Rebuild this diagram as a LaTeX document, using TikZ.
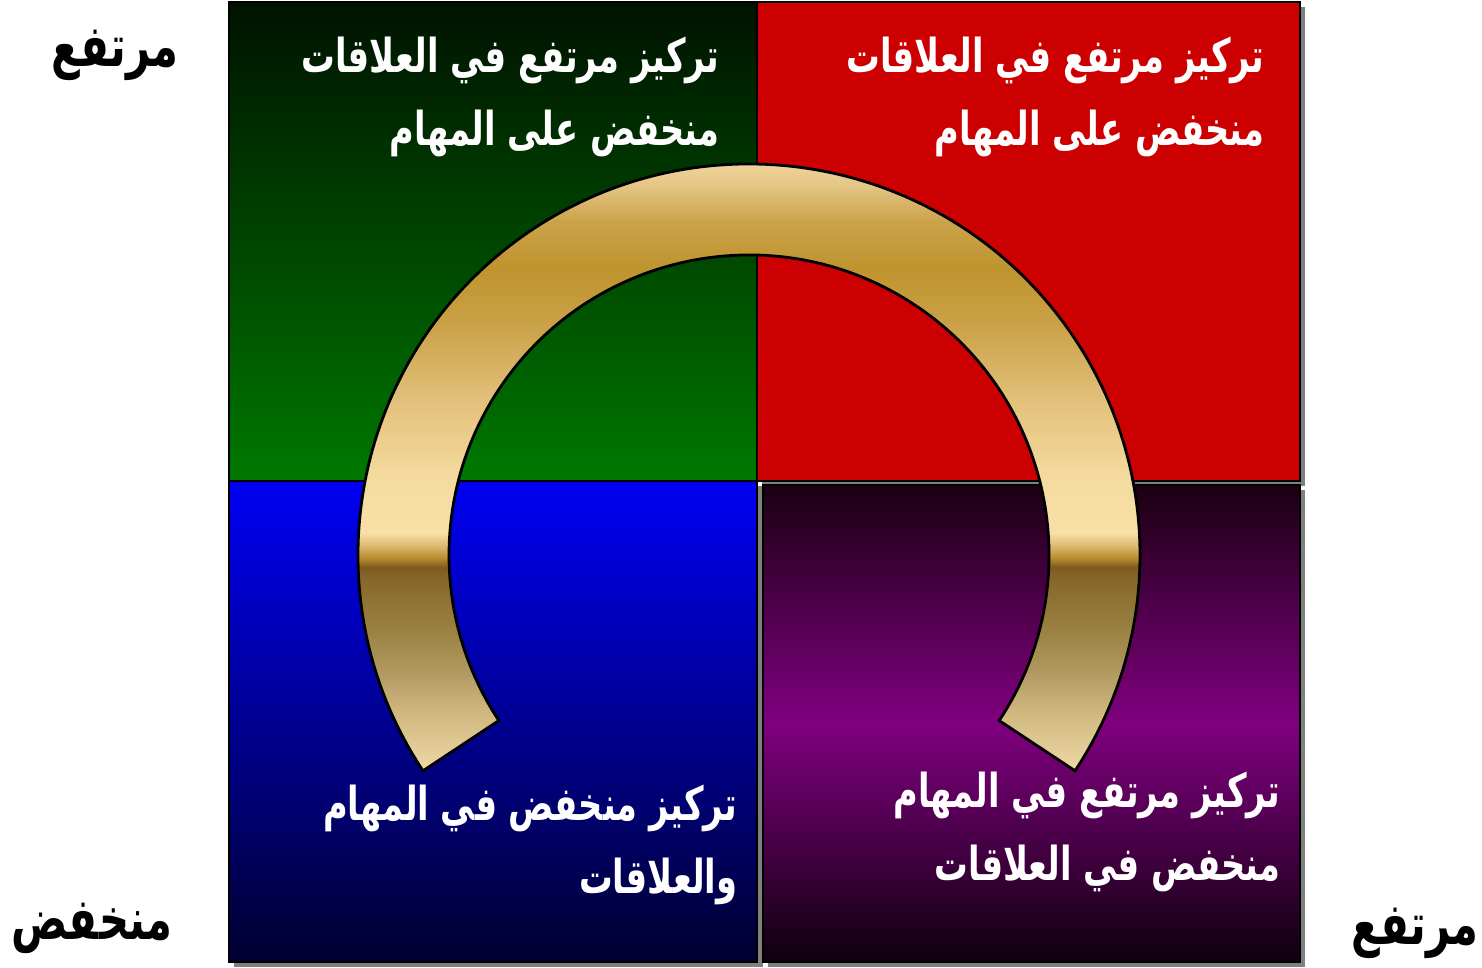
\documentclass[tikz,border=0pt]{standalone}
\usepackage{fontspec}
\usetikzlibrary{calc}
\newfontfamily\arabicfont[Script=Arabic,FakeStretch=0.72]{DejaVu Sans}
\TeXXeTstate=1
\definecolor{quadred}{HTML}{CC0000}
\definecolor{quadgreen}{HTML}{007800}
\definecolor{quadgreentop}{HTML}{001200}
\definecolor{quadblue}{HTML}{0000F4}
\definecolor{quadbluebot}{HTML}{000030}
\definecolor{quadpurple}{HTML}{800080}
\definecolor{quadpurpletop}{HTML}{1A0012}
\definecolor{quadpurplebot}{HTML}{0E000C}
\definecolor{shadowgray}{HTML}{808080}
\definecolor{goldA}{HTML}{F0D8A8}
\definecolor{goldB}{HTML}{D0B880}
\definecolor{goldC}{HTML}{B09860}
\definecolor{goldD}{HTML}{988040}
\definecolor{goldE}{HTML}{86662A}
\definecolor{goldF}{HTML}{7E5A1E}
\definecolor{goldG}{HTML}{B88C2E}
\definecolor{goldH}{HTML}{D8B468}
\definecolor{goldI}{HTML}{F8E0A8}
\definecolor{goldJ}{HTML}{F4DA9E}
\definecolor{goldK}{HTML}{E2C07A}
\definecolor{goldL}{HTML}{C9A045}
\definecolor{goldM}{HTML}{BF942E}
\definecolor{goldN}{HTML}{CBA24A}
\definecolor{goldO}{HTML}{E6C88A}
\pgfdeclareverticalshading{goldarc}{100bp}{color(0bp)=(goldA); color(25bp)=(goldA);
  color(29.35bp)=(goldB); color(32.6bp)=(goldC); color(35.9bp)=(goldD);
  color(39.6bp)=(goldE); color(40.4bp)=(goldF); color(41.1bp)=(goldG);
  color(41.9bp)=(goldH); color(43bp)=(goldI); color(47.4bp)=(goldJ);
  color(53.1bp)=(goldK); color(59bp)=(goldL); color(63bp)=(goldM);
  color(66.5bp)=(goldN); color(69.5bp)=(goldO); color(72.5bp)=(goldI); color(100bp)=(goldI)}
\begin{document}
\begin{tikzpicture}[
    quad/.style={draw=black,line width=0.8pt},
    quadshadow/.style={fill=shadowgray},
    celltext/.style={text=white,font=\arabicfont\bfseries\fontsize{13.3}{20.8}\selectfont,align=right,anchor=east,inner sep=0pt},
    axislabel/.style={text=black,font=\arabicfont\bfseries\fontsize{16.5}{18}\selectfont,inner sep=0pt}]
    \useasboundingbox (0,0) rectangle (14.82,9.67);
    \fill[quadshadow] (7.62,4.81) rectangle (13.05,9.60);
    \fill[quadshadow] (2.34,0) rectangle (7.63,4.81);
    \fill[quadshadow] (7.68,0) rectangle (13.05,4.77);
    \draw[quad,top color=quadgreentop,bottom color=quadgreen] (2.29,4.86) rectangle (7.57,9.65);
    \draw[quad,fill=quadred] (7.57,4.86) rectangle (13.00,9.65);
    \draw[quad,top color=quadblue,bottom color=quadbluebot] (2.29,0.05) rectangle (7.57,4.86);
    \draw[quad,top color=quadpurpletop,bottom color=quadpurplebot,middle color=quadpurple] (7.63,0.05) rectangle (13.00,4.82);
    \coordinate (C) at (7.49,4.12);
    \draw[line width=0.8pt,shading=goldarc] (C) ++ (213.5:3.91) arc[start angle=213.5,end angle=-33.5,radius=3.91]
      -- ($(C)+(-33.5:3.00)$) arc[start angle=-33.5,end angle=213.5,radius=3.00] -- cycle;
    \node[celltext] (tl) at (7.20,8.70) {\beginR تركيز مرتفع في العلاقات\endR\\\beginR منخفض على المهام\endR};
    \node[celltext] (tr) at (12.65,8.70) {\beginR تركيز مرتفع في العلاقات\endR\\\beginR منخفض على المهام\endR};
    \node[celltext] (bl) at (7.38,1.22) {\beginR تركيز منخفض في المهام\endR\\\beginR والعلاقات\endR};
    \node[celltext] (br) at (12.81,1.35) {\beginR تركيز مرتفع في المهام\endR\\\beginR منخفض في العلاقات\endR};
    \node[axislabel] (high) at (1.15,9.12) {\beginR مرتفع\endR};
    \node[axislabel] (low) at (0.92,0.39) {\beginR منخفض\endR};
    \node[axislabel] (right) at (14.15,0.34) {\beginR مرتفع\endR};
  \end{tikzpicture}
\end{document}
